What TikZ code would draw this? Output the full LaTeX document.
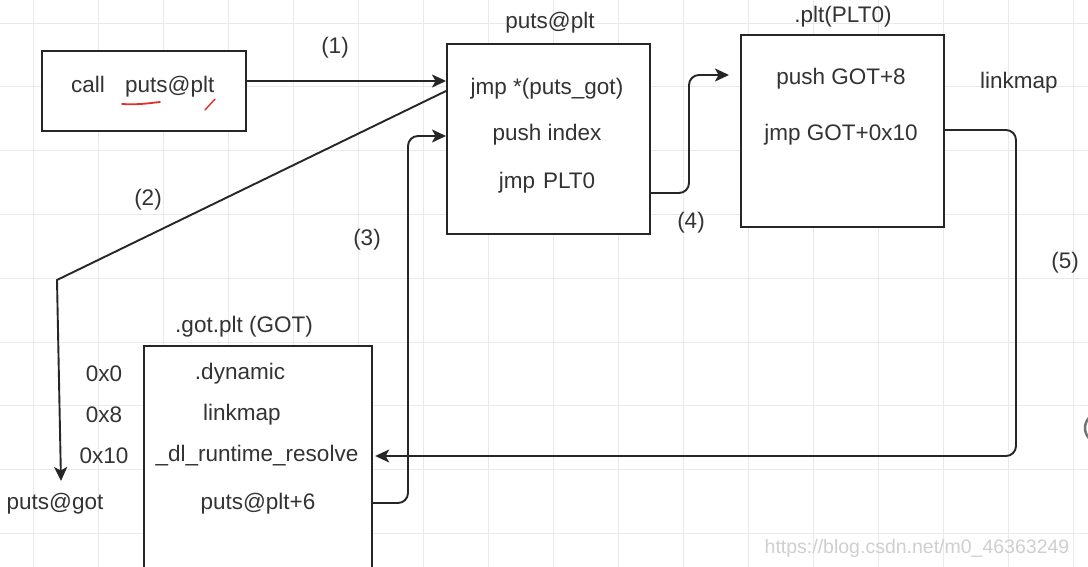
\documentclass[tikz,border=0pt]{standalone}
\usepackage{fontspec}
\setmainfont{Liberation Sans}
\usetikzlibrary{arrows.meta}
\definecolor{txt}{HTML}{333333}
\definecolor{gridc}{HTML}{E9E9E9}
\definecolor{wm}{HTML}{CFCFCF}
\definecolor{penred}{HTML}{E0302A}
\begin{document}
\begin{tikzpicture}[x=1pt,y=-1pt,
  box/.style={draw=black!85, line width=2.2pt, fill=white, inner sep=0pt, anchor=north west},
  lbl/.style={text=txt, font=\fontsize{22.5}{27}\selectfont, inner sep=0pt, yshift=-2.5pt},
  wmark/.style={text=wm, font=\fontsize{19.5}{23}\selectfont, inner sep=0pt},
  conn/.style={draw=black!85, line width=1.9pt, rounded corners=10pt},
  arr/.style={conn, -{Stealth[length=14pt,width=13pt,inset=3.5pt]}}]
\useasboundingbox (0,0) rectangle (1088,567);
\clip (0,0) rectangle (1088,567);
\fill[white] (0,0) rectangle (1088,567);
% grid
\foreach \i in {0,...,16} {\draw[gridc, line width=0.9pt] (33+65*\i,0) -- (33+65*\i,567);}
\foreach \j in {0,...,8} {\draw[gridc, line width=0.9pt] (0,23+63.8*\j) -- (1088,23+63.8*\j);}
% boxes
\node[box, minimum width=204pt, minimum height=80pt] (call) at (41,50) {};
\node[box, minimum width=203pt, minimum height=190pt] (plt) at (446,43) {};
\node[box, minimum width=203pt, minimum height=192pt] (plt0) at (740,34) {};
\node[box, minimum width=228pt, minimum height=240pt] (got) at (143,345) {};
% texts
\node[lbl] (tcall) at (71,84) [anchor=west] {call\hspace{0.9em}puts@plt};
\draw[penred, line width=1.8pt, line cap=round] (122,104) .. controls (140,105) and (150,103) .. (160,102);
\draw[penred, line width=1.4pt, line cap=round] (205,110) -- (215,99);
\node[lbl] (n1) at (335,45) {(1)};
\node[lbl] (tplt) at (550,20) {puts@plt};
\node[lbl] (p1) at (547,86) {jmp *(puts\_got)};
\node[lbl] (p2) at (547,132) {push index};
\node[lbl] (p3) at (547,180) {jmp\hspace{0.35em}PLT0};
\node[lbl] (tplt0) at (843,14) {.plt(PLT0)};
\node[lbl] (q1) at (841,76) {push GOT+8};
\node[lbl] (q2) at (841,132) {jmp GOT+0x10};
\node[lbl] (lm) at (1019,80) {linkmap};
\node[lbl] (n2) at (148,197) {(2)};
\node[lbl] (n3) at (367,237) {(3)};
\node[lbl] (n4) at (691,220) {(4)};
\node[lbl] (n5) at (1065,260) {(5)};
\node[lbl] (tgot) at (244,324) {.got.plt (GOT)};
\node[lbl] (a0) at (104,371) {0x0};
\node[lbl] (a8) at (104,412) {0x8};
\node[lbl] (a10) at (104,453) {0x10};
\node[lbl] (pgot) at (55,501) {puts@got};
\node[lbl] (g1) at (240,371) {.dynamic};
\node[lbl] (g2) at (242,412) {linkmap};
\node[lbl] (g3) at (257,453) {\_dl\_runtime\_resolve};
\node[lbl] (g4) at (258,501) {puts@plt+6};
\node[wmark] (wmk) at (917,548) {https://blog.csdn.net/m0\_46363249};
\draw[black!55, line width=2.5pt] (1100,428) circle (15);
% connectors
\coordinate (c2a) at (57,280);
\coordinate (c2b) at (61,481);
\draw[arr] (call.east |- 0,81) -- (plt.west |- 0,81);
\draw[arr, rounded corners=0pt] (plt.west |- 0,91) -- (c2a) -- (c2b);
\draw[arr] (got.east |- 0,503) -- (408,503) -- (408,136) -- (plt.west |- 0,136);
\draw[arr, shorten >=11pt] (plt.east |- 0,193) -- (689,193) -- (689,75) -- (plt0.west |- 0,75);
\draw[arr, shorten >=2pt] (plt0.east |- 0,130) -- (1016,130) -- (1016,456) -- (got.east |- 0,456);
\end{tikzpicture}
\end{document}
